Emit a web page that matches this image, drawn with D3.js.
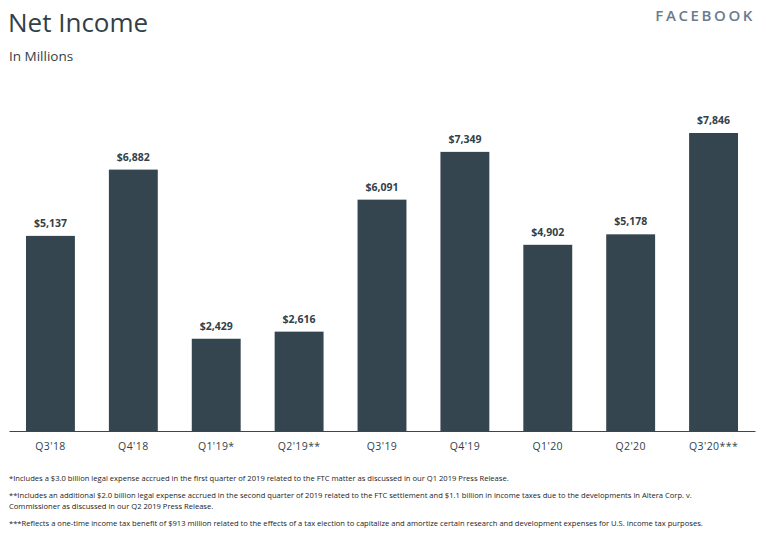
<!DOCTYPE html>
<html><head><meta charset="utf-8">
<script src="https://cdn.jsdelivr.net/npm/d3@7"></script>
<style>
html,body{margin:0;padding:0;background:#fff;}
svg{display:block;}
</style></head>
<body><svg id="chart" width="766" height="537"></svg>
<script>
const categories = ["Q3'18","Q4'18","Q1'19*","Q2'19**","Q3'19","Q4'19","Q1'20","Q2'20","Q3'20***"];
const netIncome = [5137, 6882, 2429, 2616, 6091, 7349, 4902, 5178, 7846];
const title = "Net Income";
const subtitle = "In Millions";
const brand = "FACEBOOK";
const footnotes = [
  "*Includes a $3.0 billion legal expense accrued in the first quarter of 2019 related to the FTC matter as discussed in our Q1 2019 Press Release.",
  "**Includes an additional $2.0 billion legal expense accrued in the second quarter of 2019 related to the FTC settlement and $1.1 billion in income taxes due to the developments in Altera Corp. v.",
  "Commissioner as discussed in our Q2 2019 Press Release.",
  "***Reflects a one-time income tax benefit of $913 million related to the effects of a tax election to capitalize and amortize certain research and development expenses for U.S. income tax purposes."
];

const svg = d3.select("#chart");
const dark = "#344550";
const textCol = "#333f48";

const x = d3.scaleBand().domain(categories).range([9, 755]).paddingInner(0.41).paddingOuter(0.205);
const y = d3.scaleLinear().domain([0, 7846]).range([431, 133]);

svg.append("text").attr("x", 8).attr("y", 32).attr("font-family", "'Open Sans', sans-serif")
  .attr("font-size", 26).attr("fill", textCol).text(title);
svg.append("text").attr("x", 9).attr("y", 61).attr("font-family", "'Open Sans', sans-serif")
  .attr("font-size", 13.5).attr("fill", textCol).text(subtitle);
svg.append("text").attr("x", 755).attr("y", 21).attr("text-anchor", "end").attr("font-family", "'Open Sans', sans-serif")
  .attr("font-size", 15).attr("font-weight", 600).attr("letter-spacing", 2.6).attr("fill", "#6b7b8c").text(brand);

svg.append("g").selectAll("rect").data(netIncome).join("rect")
  .attr("x", (d,i) => x(categories[i])).attr("width", x.bandwidth())
  .attr("y", d => y(d)).attr("height", d => y(0) - y(d)).attr("fill", dark);

svg.append("g").selectAll("text").data(netIncome).join("text")
  .attr("x", (d,i) => x(categories[i]) + x.bandwidth()/2).attr("y", d => y(d) - 9)
  .attr("text-anchor", "middle").attr("font-family", "'Open Sans', sans-serif")
  .attr("font-size", 10.5).attr("font-weight", 700).attr("fill", textCol)
  .text(d => "$" + d3.format(",")(d));

const xAxis = svg.append("g").attr("transform", "translate(0,431)")
  .call(d3.axisBottom(x).tickSize(0).tickPadding(12).tickSizeOuter(0));
xAxis.select(".domain").attr("stroke", "#444").attr("stroke-width", 1);
xAxis.selectAll("text").attr("font-family", "'Open Sans', sans-serif").attr("font-size", 10.5)
  .attr("letter-spacing", 0.4).attr("fill", textCol);

const fy = [481, 498, 509, 526];
svg.append("g").selectAll("text").data(footnotes).join("text")
  .attr("x", 9).attr("y", (d,i) => fy[i]).attr("font-family", "'Liberation Sans Narrow', 'Open Sans', sans-serif")
  .attr("font-size", 7.6).attr("fill", "#222").text(d => d);
</script></body></html>
